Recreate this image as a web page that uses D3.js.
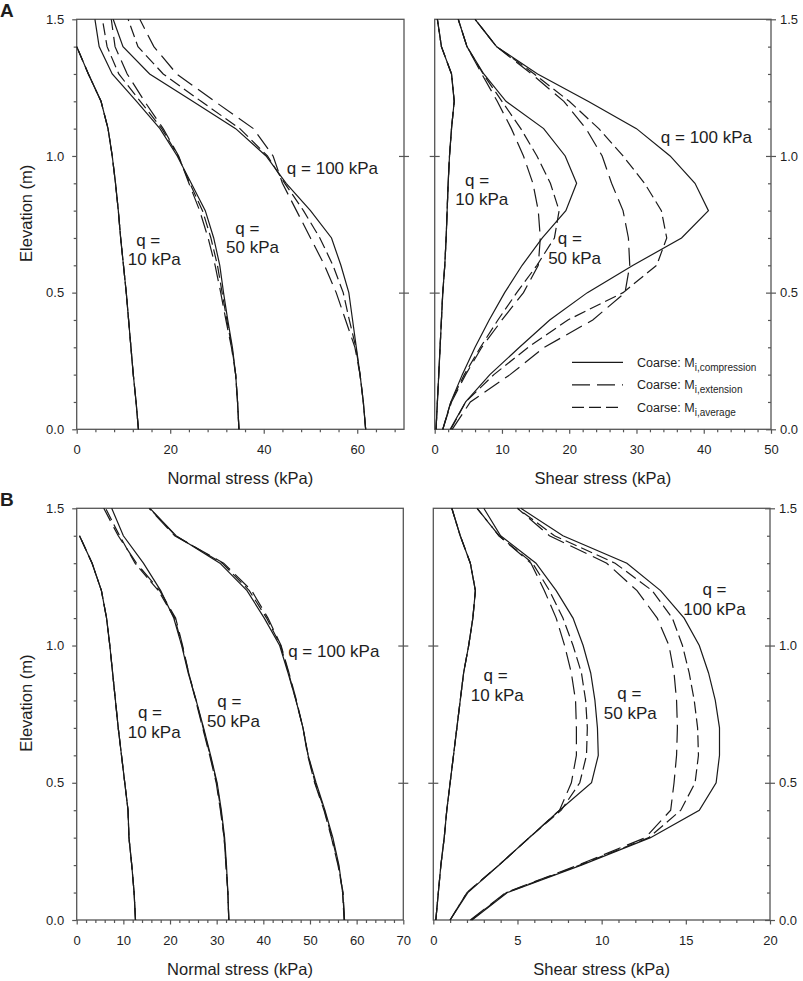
<!DOCTYPE html>
<html>
<head>
<meta charset="utf-8">
<script src="https://cdn.jsdelivr.net/npm/d3@7"></script>
<style>
  body { margin: 0; background: #fff; }
  svg text { font-family: "Liberation Sans", Arial, sans-serif; fill: #1e1e1e; }
</style>
</head>
<body>
<div id="chart"></div>
<script>
// elevation levels shared by every profile (m)
const elevation = [0, 0.1, 0.2, 0.3, 0.4, 0.5, 0.6, 0.7, 0.8, 0.9, 1.0, 1.1, 1.2, 1.3, 1.4, 1.5];

// ---- A: normal stress (kPa)
const normalA_q10_comp = [13.2, 12.7, 12.1, 11.6, 11.1, 10.6, 10.0, 9.4, 8.9, 8.3, 7.6, 6.7, 5.2, 2.5, 0, null];
const normalA_q10_ext  = [13.2, 12.7, 12.1, 11.6, 11.1, 10.6, 10.0, 9.4, 8.9, 8.3, 7.6, 6.7, 5.2, 2.5, 0, null];
const normalA_q10_avg  = [13.2, 12.7, 12.1, 11.6, 11.1, 10.6, 10.0, 9.4, 8.9, 8.3, 7.6, 6.7, 5.2, 2.5, 0, null];
const normalA_q50_comp = [34.7, 34.4, 34.0, 33.3, 32.3, 31.4, 30.6, 29.3, 27.5, 24.5, 21.5, 17.8, 12.8, 7.6, 4.8, 3.9];
const normalA_q50_ext  = [34.7, 34.4, 34.0, 33.1, 31.9, 30.8, 29.6, 28.1, 26.3, 24.0, 21.8, 18.5, 14.5, 10.8, 8.2, 7.4];
const normalA_q50_avg  = [34.7, 34.4, 34.0, 33.2, 32.1, 31.1, 30.1, 28.7, 26.9, 24.2, 21.7, 18.2, 13.6, 9.0, 6.5, 5.5];
const normalA_q100_comp = [61.8, 61.3, 60.6, 59.8, 59.0, 58.2, 56.5, 54.5, 50.0, 44.8, 40.5, 34.0, 24.8, 15.6, 9.9, 7.8];
const normalA_q100_ext  = [61.8, 61.3, 60.6, 59.5, 57.5, 55.5, 53.0, 50.0, 47.0, 44.0, 42.0, 37.8, 29.5, 21.4, 16.5, 13.5];
const normalA_q100_avg  = [61.8, 61.3, 60.6, 59.7, 58.3, 57.0, 54.8, 52.0, 48.5, 44.5, 40.8, 34.9, 26.6, 18.5, 13.1, 11.0];

// ---- A: shear stress (kPa)
const shearA_q10_comp = [0.2, 0.4, 0.6, 0.8, 1.0, 1.2, 1.5, 1.7, 1.85, 2.0, 2.2, 2.5, 2.9, 2.5, 1.0, 0.4];
const shearA_q10_ext  = [0.2, 0.4, 0.6, 0.8, 1.0, 1.2, 1.5, 1.7, 1.85, 2.0, 2.2, 2.5, 2.9, 2.5, 1.0, 0.4];
const shearA_q10_avg  = [0.2, 0.4, 0.6, 0.8, 1.0, 1.2, 1.5, 1.7, 1.85, 2.0, 2.2, 2.5, 2.9, 2.5, 1.0, 0.4];
const shearA_q50_comp = [1.2, 2.4, 4.1, 6.0, 8.1, 10.4, 13.0, 16.0, 19.5, 21.1, 19.4, 16.2, 10.6, 7.3, 4.8, 3.5];
const shearA_q50_ext  = [1.2, 2.5, 4.6, 7.0, 10.0, 13.2, 15.4, 15.7, 15.4, 14.6, 13.2, 11.4, 9.3, 7.0, 4.8, 3.5];
const shearA_q50_avg  = [1.2, 2.4, 4.4, 6.8, 9.4, 12.2, 15.2, 17.8, 18.5, 17.2, 15.2, 12.8, 10.0, 7.2, 4.8, 3.5];
const shearA_q100_comp = [2.3, 4.6, 8.2, 12.6, 17.1, 22.7, 29.5, 36.7, 40.7, 38.7, 35.0, 30.0, 22.8, 15.3, 9.2, 6.0];
const shearA_q100_ext  = [2.6, 5.3, 11.2, 16.3, 23.5, 28.3, 29.0, 28.8, 28.0, 26.3, 24.9, 22.5, 19.2, 14.4, 9.2, 6.0];
const shearA_q100_avg  = [2.4, 4.6, 8.8, 13.9, 19.8, 28.0, 33.0, 34.5, 33.7, 31.2, 28.0, 24.4, 20.0, 14.8, 9.2, 6.0];

// ---- B: normal stress (kPa)
const normalB_q10_comp = [12.6, 12.3, 11.8, 11.2, 11.0, 10.3, 9.6, 8.9, 8.3, 7.7, 7.1, 6.4, 5.3, 3.3, 0.6, null];
const normalB_q10_ext  = [12.6, 12.3, 11.8, 11.2, 11.0, 10.3, 9.6, 8.9, 8.3, 7.7, 7.1, 6.4, 5.3, 3.3, 0.6, null];
const normalB_q10_avg  = [12.6, 12.3, 11.8, 11.2, 11.0, 10.3, 9.6, 8.9, 8.3, 7.7, 7.1, 6.4, 5.3, 3.3, 0.6, null];
const normalB_q50_comp = [32.6, 32.4, 32.1, 31.7, 31.0, 30.1, 28.7, 27.2, 25.6, 23.9, 22.5, 20.8, 18.0, 14.3, 10.0, 7.5];
const normalB_q50_ext  = [32.6, 32.4, 32.0, 31.6, 30.8, 29.9, 28.5, 27.0, 25.5, 24.0, 22.7, 21.2, 17.8, 12.8, 8.9, 5.8];
const normalB_q50_avg  = [32.6, 32.4, 32.0, 31.6, 30.9, 30.0, 28.6, 27.1, 25.6, 24.0, 22.6, 21.0, 17.5, 12.5, 9.2, 6.2];
const normalB_q100_comp = [57.4, 57.0, 56.2, 54.9, 53.2, 51.3, 49.6, 48.5, 47.0, 45.3, 43.5, 40.2, 36.5, 30.7, 21.3, 15.7];
const normalB_q100_ext  = [57.4, 57.1, 56.0, 54.6, 53.0, 51.0, 49.5, 48.5, 47.1, 45.5, 43.8, 41.0, 37.5, 31.5, 21.0, 15.5];
const normalB_q100_avg  = [57.3, 57.0, 56.1, 54.7, 53.1, 51.1, 49.6, 48.5, 47.0, 45.4, 43.7, 40.7, 37.0, 31.2, 21.2, 15.6];

// ---- B: shear stress (kPa)
const shearB_q10_comp = [0.15, 0.3, 0.45, 0.65, 0.8, 1.0, 1.2, 1.4, 1.6, 1.8, 2.1, 2.35, 2.5, 2.2, 1.6, 1.1];
const shearB_q10_ext  = [0.15, 0.3, 0.45, 0.65, 0.8, 1.0, 1.2, 1.4, 1.6, 1.8, 2.1, 2.35, 2.5, 2.2, 1.6, 1.1];
const shearB_q10_avg  = [0.15, 0.3, 0.45, 0.65, 0.8, 1.0, 1.2, 1.4, 1.6, 1.8, 2.1, 2.35, 2.5, 2.2, 1.6, 1.1];
const shearB_q50_comp = [1.0, 2.05, 3.9, 5.7, 7.5, 9.4, 9.8, 9.75, 9.6, 9.35, 8.9, 8.3, 7.3, 6.1, 4.0, 3.0];
const shearB_q50_ext  = [1.0, 2.0, 3.9, 5.7, 7.5, 8.2, 8.5, 8.5, 8.45, 8.2, 7.8, 7.3, 6.6, 5.8, 3.9, 2.6];
const shearB_q50_avg  = [1.0, 2.0, 3.9, 5.7, 7.6, 8.7, 9.1, 9.15, 9.05, 8.8, 8.3, 7.7, 6.9, 5.9, 3.9, 2.6];
const shearB_q100_comp = [2.3, 4.4, 8.8, 12.9, 15.8, 16.8, 17.0, 17.0, 16.75, 16.35, 15.8, 14.9, 13.5, 11.5, 7.7, 5.2];
const shearB_q100_ext  = [2.2, 4.3, 8.6, 12.6, 14.1, 14.3, 14.45, 14.5, 14.45, 14.3, 14.0, 13.3, 12.1, 10.3, 6.9, 5.0];
const shearB_q100_avg  = [2.25, 4.35, 8.7, 12.8, 14.7, 15.55, 15.75, 15.7, 15.5, 15.2, 14.8, 14.2, 13.0, 10.8, 7.2, 5.0];

// tick labels
const yTicks = [0, 0.5, 1.0, 1.5];
const xTicksNormalA = [0, 20, 40, 60];
const xTicksShearA = [0, 10, 20, 30, 40, 50];
const xTicksNormalB = [0, 10, 20, 30, 40, 50, 60, 70];
const xTicksShearB = [0, 5, 10, 15, 20];

// annotations: [text, stress, elevation]
const labelsNormalA = [["q = 100 kPa", 54.7, 0.956], ["q =", 36.5, 0.737], ["50 kPa", 37.6, 0.667], ["q =", 15.3, 0.693], ["10 kPa", 16.6, 0.623]];
const labelsShearA = [["q = 100 kPa", 40.4, 1.071], ["q =", 6.3, 0.913], ["10 kPa", 7.0, 0.844], ["q =", 20.1, 0.699], ["50 kPa", 20.8, 0.625]];
const labelsNormalB = [["q = 100 kPa", 55.1, 0.98], ["q =", 15.7, 0.757], ["10 kPa", 16.6, 0.683], ["q =", 32.7, 0.798], ["50 kPa", 33.6, 0.726]];
const labelsShearB = [["q =", 16.7, 1.206], ["100 kPa", 16.7, 1.133], ["q =", 3.7, 0.893], ["10 kPa", 3.8, 0.82], ["q =", 11.65, 0.826], ["50 kPa", 11.7, 0.753]];

// legend
const legendModels = ["comp", "ext", "avg"];
const legendSubs = ["i,compression", "i,extension", "i,average"];

const dashFor = { comp: null, ext: "18,7", avg: "12,5" };
const axisColor = "#555";
const lineColor = "#1a1a1a";

const svg = d3.select("#chart").append("svg")
    .attr("width", 803)
    .attr("height", 981);

function seriesSet(c10, e10, a10, c50, e50, a50, c100, e100, a100) {
    return [
        { vals: c10, model: "comp" }, { vals: e10, model: "ext" }, { vals: a10, model: "avg" },
        { vals: c50, model: "comp" }, { vals: e50, model: "ext" }, { vals: a50, model: "avg" },
        { vals: c100, model: "comp" }, { vals: e100, model: "ext" }, { vals: a100, model: "avg" }
    ];
}

const panels = [
    { left: 76.7, right: 404, top: 19.3, bottom: 429.3, xMax: 70, xTicks: xTicksNormalA, minorStep: 4,
      side: "left", xTitle: "Normal stress (kPa)", letter: "A", labels: labelsNormalA,
      series: seriesSet(normalA_q10_comp, normalA_q10_ext, normalA_q10_avg, normalA_q50_comp, normalA_q50_ext, normalA_q50_avg, normalA_q100_comp, normalA_q100_ext, normalA_q100_avg) },
    { left: 434.7, right: 771, top: 19.3, bottom: 429.3, xMax: 50, xTicks: xTicksShearA, minorStep: 2,
      side: "right", xTitle: "Shear stress (kPa)", labels: labelsShearA, legend: true,
      series: seriesSet(shearA_q10_comp, shearA_q10_ext, shearA_q10_avg, shearA_q50_comp, shearA_q50_ext, shearA_q50_avg, shearA_q100_comp, shearA_q100_ext, shearA_q100_avg) },
    { left: 76.7, right: 403.3, top: 508.3, bottom: 920, xMax: 70, xTicks: xTicksNormalB, minorStep: 2,
      side: "left", xTitle: "Normal stress (kPa)", letter: "B", labels: labelsNormalB,
      series: seriesSet(normalB_q10_comp, normalB_q10_ext, normalB_q10_avg, normalB_q50_comp, normalB_q50_ext, normalB_q50_avg, normalB_q100_comp, normalB_q100_ext, normalB_q100_avg) },
    { left: 433.3, right: 770, top: 508.3, bottom: 920, xMax: 20, xTicks: xTicksShearB, minorStep: 1,
      side: "right", xTitle: "Shear stress (kPa)", labels: labelsShearB,
      series: seriesSet(shearB_q10_comp, shearB_q10_ext, shearB_q10_avg, shearB_q50_comp, shearB_q50_ext, shearB_q50_avg, shearB_q100_comp, shearB_q100_ext, shearB_q100_avg) }
];

panels.forEach(drawPanel);

function drawPanel(p) {
    const x = d3.scaleLinear().domain([0, p.xMax]).range([p.left, p.right]);
    const y = d3.scaleLinear().domain([0, 1.5]).range([p.bottom, p.top]);
    const g = svg.append("g");

    const yMinor = d3.range(0, 1.5001, 0.1).filter(v => Math.abs(v * 2 - Math.round(v * 2)) > 1e-6);
    const xMinor = d3.range(0, p.xMax + 1e-6, p.minorStep).filter(v => !p.xTicks.some(t => Math.abs(t - v) < 1e-6));

    // bottom axis: minor + major ticks
    g.append("g").attr("transform", `translate(0,${p.bottom})`)
        .call(d3.axisBottom(x).tickValues(xMinor).tickSize(3).tickFormat(""))
        .call(s => s.select(".domain").remove());
    g.append("g").attr("transform", `translate(0,${p.bottom})`)
        .call(d3.axisBottom(x).tickValues(p.xTicks).tickSize(4.5).tickPadding(11).tickFormat(d3.format("d")))
        .call(s => s.select(".domain").remove())
        .call(s => s.selectAll("text").attr("font-size", 13));

    if (p.side === "left") {
        g.append("g").attr("transform", `translate(${p.left},0)`)
            .call(d3.axisLeft(y).tickValues(yMinor).tickSize(3).tickFormat(""))
            .call(s => s.select(".domain").remove());
        g.append("g").attr("transform", `translate(${p.left},0)`)
            .call(d3.axisLeft(y).tickValues(yTicks).tickSize(4.5).tickPadding(8).tickFormat(d3.format(".1f")))
            .call(s => s.select(".domain").remove())
            .call(s => s.selectAll("text").attr("font-size", 13));
        // crossing ticks on the opposite frame edge
        g.append("g").attr("transform", `translate(${p.right},0)`)
            .call(d3.axisRight(y).tickValues([0.5, 1.0]).tickSize(5).tickFormat(""))
            .call(s => s.select(".domain").remove())
            .call(s => s.selectAll("line").attr("x1", -5));
    } else {
        g.append("g").attr("transform", `translate(${p.right},0)`)
            .call(d3.axisLeft(y).tickValues(yMinor).tickSize(3).tickFormat(""))
            .call(s => s.select(".domain").remove());
        g.append("g").attr("transform", `translate(${p.right},0)`)
            .call(d3.axisRight(y).tickValues(yTicks).tickSize(5).tickPadding(4).tickFormat(d3.format(".1f")))
            .call(s => s.select(".domain").remove())
            .call(s => s.selectAll("line").attr("x1", -5))
            .call(s => s.selectAll("text").attr("font-size", 13));
        g.append("g").attr("transform", `translate(${p.left},0)`)
            .call(d3.axisRight(y).tickValues([0.5, 1.0]).tickSize(5).tickFormat(""))
            .call(s => s.select(".domain").remove())
            .call(s => s.selectAll("line").attr("x1", -5));
    }
    g.selectAll(".tick line").attr("stroke", axisColor).attr("stroke-width", 1.2);
    g.selectAll(".tick text").attr("fill", "#1e1e1e")
        .attr("font-family", "'Liberation Sans', Arial, sans-serif");

    // frame
    g.append("rect")
        .attr("x", p.left).attr("y", p.top)
        .attr("width", p.right - p.left).attr("height", p.bottom - p.top)
        .attr("fill", "none").attr("stroke", axisColor).attr("stroke-width", 1.3);

    // profiles
    const line = d3.line()
        .defined(d => d[0] != null)
        .x(d => x(d[0]))
        .y(d => y(d[1]));
    g.append("g").selectAll("path")
        .data(p.series).enter().append("path")
        .attr("d", s => line(s.vals.map((v, i) => [v, elevation[i]])))
        .attr("fill", "none")
        .attr("stroke", lineColor)
        .attr("stroke-width", 1.2)
        .attr("stroke-dasharray", s => dashFor[s.model]);

    // annotations
    g.append("g").selectAll("text")
        .data(p.labels).enter().append("text")
        .attr("x", d => x(d[1]))
        .attr("y", d => y(d[2]))
        .attr("dy", "0.35em")
        .attr("text-anchor", "middle")
        .attr("font-size", 17)
        .text(d => d[0]);

    // axis titles
    g.append("text")
        .attr("x", (p.left + p.right) / 2)
        .attr("y", p.bottom + 55)
        .attr("text-anchor", "middle")
        .attr("font-size", 16.5)
        .text(p.xTitle);

    if (p.side === "left") {
        g.append("text")
            .attr("transform", `translate(32,${(p.top + p.bottom) / 2 - 11}) rotate(-90)`)
            .attr("text-anchor", "middle")
            .attr("font-size", 16.5)
            .text("Elevation (m)");
        g.append("text")
            .attr("x", 0)
            .attr("y", p.top - 2)
            .attr("font-size", 19)
            .attr("font-weight", "bold")
            .text(p.letter);
    }

    if (p.legend) {
        const lx0 = p.right - 199, lx1 = p.right - 148, ty = 637 - p.right;
        const rowY = d3.scalePoint().domain(legendModels).range([y(0.245), y(0.08)]);
        const lg = g.append("g").attr("class", "legend");
        lg.selectAll("line")
            .data(legendModels).enter().append("line")
            .attr("x1", lx0).attr("x2", lx1)
            .attr("y1", d => rowY(d)).attr("y2", d => rowY(d))
            .attr("stroke", lineColor).attr("stroke-width", 1.2)
            .attr("stroke-dasharray", d => dashFor[d]);
        const txt = lg.selectAll("text")
            .data(legendModels).enter().append("text")
            .attr("x", p.right + ty)
            .attr("y", d => rowY(d) + 4.5)
            .attr("font-size", 12.5);
        txt.append("tspan").text("Coarse: M");
        txt.append("tspan")
            .attr("font-size", 10)
            .attr("dy", 4)
            .text((d, i) => legendSubs[i]);
    }
}
</script>
</body>
</html>
